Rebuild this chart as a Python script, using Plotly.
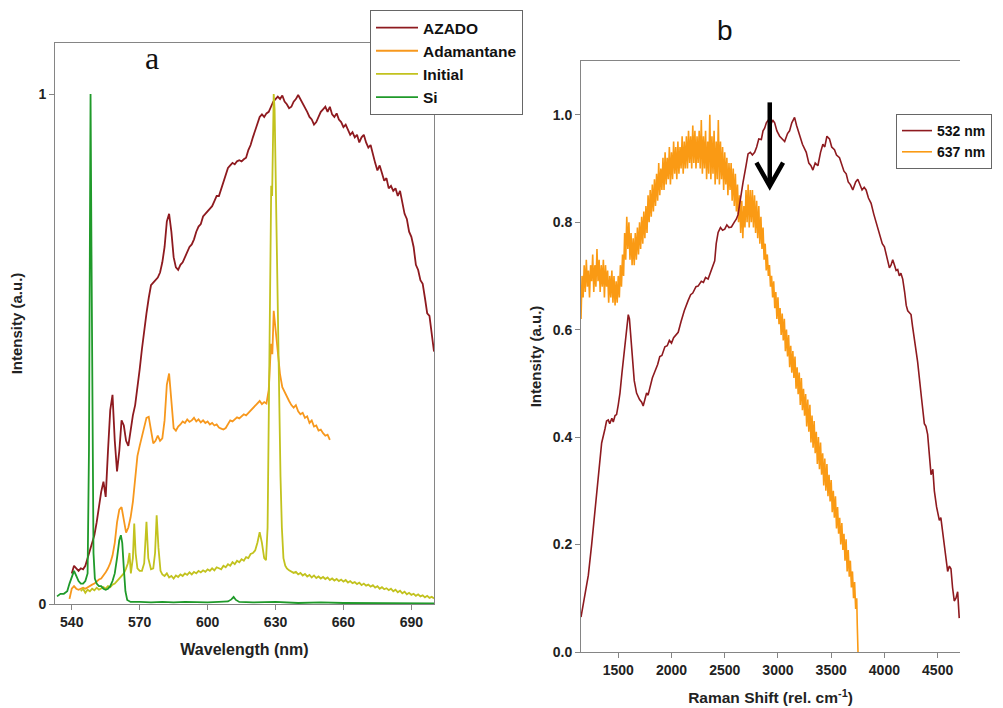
import plotly.graph_objects as go

# ---------------- Panel a data (wavelength nm, normalised intensity) ----------------
AZADO = [
    (540, 0.06), (541, 0.075), (542, 0.07), (543, 0.065), (544, 0.07), (545, 0.068), (546, 0.075),
    (547, 0.09), (548, 0.11), (549, 0.12), (550, 0.135), (551, 0.16), (552, 0.19), (553, 0.22),
    (554, 0.24), (555, 0.21), (556, 0.30), (557, 0.38), (558, 0.41), (559, 0.32), (560, 0.26),
    (561, 0.30), (562, 0.36), (563, 0.35), (564, 0.32), (565, 0.31), (566, 0.34), (567, 0.37),
    (568, 0.39), (569, 0.42), (570, 0.46), (571, 0.50), (572, 0.54), (573, 0.57), (574, 0.60),
    (575, 0.625), (576, 0.63), (577, 0.635), (578, 0.64), (579, 0.65), (580, 0.67), (581, 0.70),
    (582, 0.75), (583, 0.765), (584, 0.73), (585, 0.68), (586, 0.66), (587, 0.655), (588, 0.665),
    (589, 0.67), (590, 0.68), (591, 0.69), (592, 0.70), (593, 0.705), (594, 0.715), (595, 0.73),
    (596, 0.74), (597, 0.745), (598, 0.76), (599, 0.765), (600, 0.77), (601, 0.775), (602, 0.78),
    (603, 0.79), (604, 0.80), (605, 0.80), (606, 0.815), (607, 0.83), (608, 0.845), (609, 0.855),
    (610, 0.86), (611, 0.865), (612, 0.862), (613, 0.868), (614, 0.87), (615, 0.868), (616, 0.872),
    (617, 0.875), (618, 0.89), (619, 0.90), (620, 0.915), (621, 0.93), (622, 0.945), (623, 0.955),
    (624, 0.96), (625, 0.955), (626, 0.962), (627, 0.965), (628, 0.975), (629, 0.985), (630, 0.99),
    (631, 0.995), (632, 0.99), (633, 0.997), (634, 0.985), (635, 0.98), (636, 0.972), (637, 0.975),
    (638, 0.985), (639, 0.99), (640, 0.998), (641, 0.99), (642, 0.98), (643, 0.975), (644, 0.965),
    (645, 0.955), (646, 0.95), (647, 0.94), (648, 0.945), (649, 0.955), (650, 0.965), (651, 0.97),
    (652, 0.975), (653, 0.965), (654, 0.975), (655, 0.96), (656, 0.955), (657, 0.962), (658, 0.95),
    (659, 0.945), (660, 0.935), (661, 0.94), (662, 0.93), (663, 0.92), (664, 0.925), (665, 0.915),
    (666, 0.92), (667, 0.905), (668, 0.915), (669, 0.92), (670, 0.905), (671, 0.895), (672, 0.90),
    (673, 0.88), (674, 0.865), (675, 0.85), (676, 0.86), (677, 0.845), (678, 0.83), (679, 0.835),
    (680, 0.815), (681, 0.82), (682, 0.81), (683, 0.815), (684, 0.80), (685, 0.81), (686, 0.79),
    (687, 0.765), (688, 0.755), (689, 0.73), (690, 0.72), (691, 0.70), (692, 0.665), (693, 0.655),
    (694, 0.635), (695, 0.628), (696, 0.60), (697, 0.57), (698, 0.565), (699, 0.53), (700, 0.495),
]

ADAMANTANE = [
    (539, 0.01), (540, 0.03), (541, 0.035), (542, 0.03), (543, 0.028), (544, 0.03), (545, 0.032),
    (546, 0.03), (547, 0.033), (548, 0.035), (549, 0.038), (550, 0.04), (551, 0.045), (552, 0.048),
    (553, 0.05), (554, 0.055), (555, 0.062), (556, 0.07), (557, 0.08), (558, 0.095), (559, 0.12),
    (560, 0.16), (561, 0.185), (562, 0.19), (563, 0.16), (564, 0.14), (565, 0.15), (566, 0.17),
    (567, 0.20), (568, 0.25), (569, 0.29), (570, 0.31), (571, 0.33), (572, 0.35), (573, 0.365),
    (574, 0.367), (575, 0.34), (576, 0.315), (577, 0.32), (578, 0.33), (579, 0.32), (580, 0.325),
    (581, 0.36), (582, 0.43), (583, 0.452), (584, 0.39), (585, 0.345), (586, 0.34), (587, 0.348),
    (588, 0.352), (589, 0.358), (590, 0.355), (591, 0.362), (592, 0.357), (593, 0.36), (594, 0.365),
    (595, 0.358), (596, 0.362), (597, 0.356), (598, 0.36), (599, 0.355), (600, 0.358), (601, 0.352),
    (602, 0.355), (603, 0.35), (604, 0.352), (605, 0.346), (606, 0.344), (607, 0.342), (608, 0.345),
    (609, 0.352), (610, 0.36), (611, 0.358), (612, 0.362), (613, 0.366), (614, 0.364), (615, 0.368),
    (616, 0.372), (617, 0.37), (618, 0.375), (619, 0.38), (620, 0.385), (621, 0.39), (622, 0.395),
    (623, 0.398), (624, 0.392), (625, 0.396), (626, 0.393), (627, 0.42), (628, 0.51), (628.6, 0.49),
    (629.2, 0.575), (630, 0.54), (631, 0.49), (632, 0.45), (633, 0.425), (634, 0.415), (635, 0.405),
    (636, 0.398), (637, 0.39), (638, 0.385), (639, 0.39), (640, 0.378), (641, 0.372), (642, 0.375),
    (643, 0.365), (644, 0.368), (645, 0.355), (646, 0.36), (647, 0.348), (648, 0.35), (649, 0.34),
    (650, 0.342), (651, 0.335), (652, 0.33), (653, 0.332), (654, 0.322),
]

INITIAL = [
    (544, 0.025), (545, 0.03), (546, 0.022), (547, 0.028), (548, 0.025), (549, 0.03), (550, 0.027),
    (551, 0.032), (552, 0.028), (553, 0.03), (554, 0.033), (555, 0.03), (556, 0.035), (557, 0.033),
    (558, 0.038), (559, 0.04), (560, 0.045), (561, 0.05), (562, 0.055), (563, 0.06), (564, 0.07),
    (564.8, 0.08), (565.5, 0.10), (566.1, 0.06), (567.0, 0.09), (567.6, 0.158), (568.2, 0.10),
    (569, 0.07), (570, 0.065), (571, 0.065), (572, 0.08), (573.0, 0.161), (573.8, 0.09), (575, 0.068),
    (576, 0.07), (576.8, 0.10), (577.5, 0.174), (578.3, 0.11), (579.2, 0.065), (580, 0.058),
    (581, 0.055), (582, 0.06), (583, 0.052), (584, 0.055), (585, 0.05), (586, 0.056), (587, 0.053),
    (588, 0.058), (589, 0.055), (590, 0.06), (591, 0.057), (592, 0.062), (593, 0.058), (594, 0.063),
    (595, 0.06), (596, 0.065), (597, 0.062), (598, 0.066), (599, 0.063), (600, 0.068), (601, 0.065),
    (602, 0.07), (603, 0.066), (604, 0.072), (605, 0.07), (606, 0.068), (607, 0.075), (608, 0.072),
    (609, 0.078), (610, 0.075), (611, 0.082), (612, 0.078), (613, 0.085), (614, 0.082), (615, 0.088),
    (616, 0.085), (617, 0.092), (618, 0.09), (619, 0.098), (620, 0.10), (621, 0.105), (622, 0.12),
    (623, 0.141), (624, 0.12), (625, 0.09), (625.8, 0.086), (626.5, 0.15), (627.1, 0.45),
    (627.7, 0.75), (628.1, 0.82), (628.5, 0.80), (628.9, 0.95), (629.2, 1.0), (629.6, 0.97),
    (630.2, 0.80), (630.8, 0.62), (631.5, 0.42), (632.2, 0.25), (632.8, 0.15), (633.5, 0.09),
    (634.3, 0.075), (635, 0.07), (636, 0.066), (637, 0.064), (638, 0.061), (639, 0.063),
    (640, 0.058), (641, 0.061), (642, 0.056), (643, 0.059), (644, 0.054), (645, 0.057),
    (646, 0.052), (647, 0.056), (648, 0.051), (649, 0.054), (650, 0.05), (651, 0.053),
    (652, 0.049), (653, 0.052), (654, 0.047), (655, 0.05), (656, 0.046), (657, 0.049),
    (658, 0.045), (659, 0.048), (660, 0.044), (661, 0.047), (662, 0.042), (663, 0.045),
    (664, 0.041), (665, 0.043), (666, 0.039), (667, 0.042), (668, 0.037), (669, 0.04),
    (670, 0.036), (671, 0.038), (672, 0.034), (673, 0.037), (674, 0.032), (675, 0.035),
    (676, 0.03), (677, 0.033), (678, 0.029), (679, 0.031), (680, 0.027), (681, 0.03),
    (682, 0.025), (683, 0.028), (684, 0.023), (685, 0.026), (686, 0.021), (687, 0.024),
    (688, 0.019), (689, 0.022), (690, 0.018), (691, 0.02), (692, 0.016), (693, 0.019),
    (694, 0.015), (695, 0.017), (696, 0.013), (697, 0.016), (698, 0.012), (699, 0.014),
    (700, 0.011),
]

SI = [
    (533.5, 0.015), (535, 0.02), (536.5, 0.02), (538, 0.025), (539, 0.04), (540, 0.055),
    (541, 0.065), (542, 0.055), (543, 0.045), (544, 0.04), (545, 0.04), (546, 0.045), (547, 0.06),
    (547.6, 0.30), (548.0, 0.80), (548.3, 1.0), (548.7, 0.70), (549.1, 0.30), (549.6, 0.10),
    (550.2, 0.05), (551, 0.04), (552, 0.035), (553, 0.035), (554, 0.03), (555, 0.028), (556, 0.03),
    (557, 0.035), (558, 0.045), (559, 0.06), (560, 0.09), (561, 0.125), (561.7, 0.135),
    (562.3, 0.12), (563, 0.07), (563.7, 0.025), (564.5, 0.008), (566, 0.004), (570, 0.004),
    (575, 0.003), (580, 0.004), (585, 0.003), (590, 0.004), (595, 0.003), (600, 0.003),
    (605, 0.004), (609, 0.005), (610.5, 0.009), (611.5, 0.014), (612.5, 0.008), (614, 0.004),
    (620, 0.003), (630, 0.004), (640, 0.002), (650, 0.003), (660, 0.002), (670, 0.002),
    (680, 0.002), (690, 0.002), (700, 0.001),
]

# ---------------- Panel b data (Raman shift rel. cm-1, normalised intensity) ----------------
NM532 = [
    (1150, 0.065), (1180, 0.10), (1219, 0.143), (1250, 0.20), (1281, 0.262), (1310, 0.33),
    (1344, 0.389), (1375, 0.415), (1390, 0.43), (1406, 0.432), (1420, 0.425), (1440, 0.435),
    (1453, 0.428), (1470, 0.44), (1484, 0.442), (1500, 0.46), (1516, 0.482), (1535, 0.52),
    (1556, 0.561), (1575, 0.60), (1594, 0.628), (1605, 0.62), (1615, 0.59), (1631, 0.548),
    (1650, 0.505), (1672, 0.482), (1700, 0.47), (1720, 0.465), (1734, 0.458), (1750, 0.47),
    (1766, 0.482), (1780, 0.478), (1800, 0.495), (1820, 0.51), (1844, 0.522), (1870, 0.535),
    (1890, 0.55), (1910, 0.552), (1938, 0.568), (1960, 0.57), (1980, 0.58), (2000, 0.575),
    (2020, 0.585), (2040, 0.59), (2063, 0.595), (2090, 0.615), (2120, 0.635), (2156, 0.654),
    (2180, 0.665), (2200, 0.668), (2230, 0.68), (2250, 0.681), (2280, 0.69), (2300, 0.688),
    (2320, 0.697), (2344, 0.694), (2370, 0.71), (2406, 0.728), (2420, 0.76), (2438, 0.781),
    (2460, 0.79), (2480, 0.785), (2500, 0.787), (2520, 0.795), (2540, 0.79), (2563, 0.791),
    (2590, 0.80), (2610, 0.806), (2625, 0.814), (2650, 0.85), (2672, 0.874), (2700, 0.905),
    (2719, 0.927), (2740, 0.93), (2760, 0.925), (2781, 0.93), (2800, 0.94), (2820, 0.955),
    (2844, 0.954), (2860, 0.97), (2875, 0.975), (2891, 0.985), (2910, 0.99), (2930, 0.98),
    (2950, 0.99), (2969, 0.985), (2990, 0.97), (3016, 0.96), (3040, 0.955), (3063, 0.95),
    (3090, 0.965), (3109, 0.97), (3130, 0.985), (3156, 0.995), (3175, 0.98), (3203, 0.96),
    (3230, 0.945), (3266, 0.93), (3290, 0.91), (3310, 0.905), (3328, 0.897), (3350, 0.91),
    (3375, 0.905), (3400, 0.93), (3422, 0.945), (3440, 0.94), (3460, 0.96), (3484, 0.955),
    (3505, 0.94), (3531, 0.935), (3550, 0.925), (3578, 0.92), (3600, 0.905), (3620, 0.895),
    (3641, 0.89), (3660, 0.875), (3680, 0.87), (3703, 0.86), (3730, 0.875), (3750, 0.88),
    (3766, 0.872), (3790, 0.86), (3810, 0.865), (3828, 0.86), (3850, 0.845), (3875, 0.835),
    (3900, 0.815), (3920, 0.80), (3938, 0.787), (3960, 0.775), (3980, 0.76), (4000, 0.754),
    (4020, 0.735), (4047, 0.715), (4062, 0.72), (4078, 0.73), (4095, 0.72), (4110, 0.71),
    (4125, 0.712), (4140, 0.70), (4155, 0.705), (4172, 0.694), (4190, 0.67), (4205, 0.645),
    (4219, 0.635), (4235, 0.632), (4250, 0.628), (4265, 0.605), (4280, 0.58), (4297, 0.561),
    (4312, 0.54), (4328, 0.515), (4350, 0.47), (4375, 0.425), (4390, 0.42), (4406, 0.405),
    (4420, 0.37), (4438, 0.33), (4455, 0.34), (4469, 0.30), (4490, 0.27), (4516, 0.245),
    (4530, 0.25), (4547, 0.225), (4570, 0.19), (4594, 0.15), (4610, 0.16), (4625, 0.155),
    (4640, 0.12), (4656, 0.095), (4672, 0.10), (4688, 0.112), (4703, 0.063),
]

# 637 nm spectrum, read every 10 rel. cm-1 from 1150 to 3740, then the last two points
nm637_shift = list(range(1150, 3750, 10)) + [3745, 3752]
nm637_int = [
    0.62, 0.70, 0.66, 0.72, 0.67, 0.73, 0.68, 0.71, 0.66, 0.72,
    0.69, 0.74, 0.67, 0.72, 0.68, 0.75, 0.69, 0.73, 0.67, 0.72,
    0.68, 0.73, 0.66, 0.72, 0.68, 0.71, 0.65, 0.70, 0.66, 0.71,
    0.65, 0.70, 0.645, 0.69, 0.65, 0.70, 0.66, 0.72, 0.68, 0.74,
    0.70, 0.78, 0.73, 0.81, 0.75, 0.80, 0.73, 0.78, 0.72, 0.77,
    0.72, 0.78, 0.73, 0.79, 0.74, 0.80, 0.75, 0.81, 0.76, 0.82,
    0.77, 0.83, 0.78, 0.85, 0.80, 0.86, 0.81, 0.87, 0.82, 0.88,
    0.83, 0.89, 0.84, 0.91, 0.85, 0.90, 0.86, 0.92, 0.86, 0.93,
    0.87, 0.92, 0.88, 0.94, 0.87, 0.93, 0.88, 0.95, 0.89, 0.94,
    0.88, 0.95, 0.89, 0.94, 0.90, 0.96, 0.89, 0.95, 0.90, 0.96,
    0.90, 0.97, 0.91, 0.96, 0.90, 0.98, 0.91, 0.97, 0.90, 0.96,
    0.91, 0.97, 0.90, 0.99, 0.89, 0.96, 0.90, 0.97, 0.88, 0.95,
    0.89, 1.00, 0.88, 0.96, 0.89, 0.97, 0.87, 0.95, 0.88, 0.99,
    0.87, 0.95, 0.88, 0.94, 0.86, 0.93, 0.87, 0.92, 0.85, 0.91,
    0.86, 0.91, 0.84, 0.90, 0.83, 0.89, 0.82, 0.87, 0.80, 0.85,
    0.78, 0.84, 0.77, 0.83, 0.79, 0.86, 0.80, 0.87, 0.79, 0.86,
    0.80, 0.86, 0.79, 0.85, 0.78, 0.84, 0.77, 0.83, 0.76, 0.81,
    0.75, 0.79, 0.73, 0.76, 0.71, 0.74, 0.70, 0.72, 0.68, 0.70,
    0.66, 0.69, 0.64, 0.67, 0.62, 0.66, 0.61, 0.64, 0.59, 0.63,
    0.58, 0.62, 0.56, 0.60, 0.55, 0.59, 0.53, 0.57, 0.52, 0.56,
    0.51, 0.55, 0.49, 0.53, 0.48, 0.52, 0.46, 0.51, 0.45, 0.49,
    0.44, 0.48, 0.42, 0.47, 0.41, 0.46, 0.39, 0.44, 0.38, 0.43,
    0.37, 0.41, 0.35, 0.40, 0.34, 0.39, 0.33, 0.37, 0.31, 0.36,
    0.30, 0.35, 0.29, 0.33, 0.28, 0.32, 0.26, 0.30, 0.25, 0.29,
    0.23, 0.27, 0.22, 0.25, 0.20, 0.24, 0.19, 0.22, 0.17, 0.21,
    0.15, 0.19, 0.14, 0.17, 0.12, 0.15, 0.10, 0.13, 0.08, 0.10,
    0.05, 0.0,
]

wl_ticks = [540, 570, 600, 630, 660, 690]
raman_ticks = [1500, 2000, 2500, 3000, 3500, 4000, 4500]
int_ticks_a = [0, 1]
int_ticks_b = [0.0, 0.2, 0.4, 0.6, 0.8, 1.0]
arrow_shift = 2923  # Raman shift marked by the arrow

C_AZADO = "#8E1A1F"
C_ADAM = "#F7981D"
C_INIT = "#C2C21E"
C_SI = "#1F9A2A"
C_532 = "#8E1A1F"
C_637 = "#FA9A14"

FONT = "Liberation Sans, Arial, sans-serif"
AXC = "#858585"

# The page body adds an 8 px offset, so the figure is 995 x 700 and placed at (8, 8).
W, H, OFF = 995, 700, 8


def px(X):
    return (X - OFF) / W


def py(Y):
    return 1 - (Y - OFF) / H


def xs(d):
    return [p[0] for p in d]


def ys(d):
    return [p[1] for p in d]


fig = go.Figure()
for name, d, c in [("AZADO", AZADO, C_AZADO), ("Adamantane", ADAMANTANE, C_ADAM),
                   ("Initial", INITIAL, C_INIT), ("Si", SI, C_SI)]:
    fig.add_trace(go.Scatter(x=xs(d), y=ys(d), mode="lines", name=name,
                             line=dict(color=c, width=1.8), xaxis="x", yaxis="y",
                             legend="legend"))

fig.add_trace(go.Scatter(x=nm637_shift, y=nm637_int, mode="lines", name="637 nm",
                         line=dict(color=C_637, width=1.6), xaxis="x2", yaxis="y2",
                         legend="legend2", legendrank=2))
fig.add_trace(go.Scatter(x=xs(NM532), y=ys(NM532), mode="lines", name="532 nm",
                         line=dict(color=C_532, width=1.6), xaxis="x2", yaxis="y2",
                         legend="legend2", legendrank=1))

tickfont = dict(family=FONT, size=14, color="#222", weight="bold")
axis_common = dict(showline=True, linecolor=AXC, linewidth=1, ticks="outside", ticklen=5,
                   tickcolor=AXC, showgrid=False, zeroline=False, tickfont=tickfont)


def tfont(size):
    return dict(family=FONT, size=size, color="#222", weight="bold")


fig.update_layout(
    width=W, height=H,
    margin=dict(l=0, r=0, t=0, b=0, autoexpand=False),
    paper_bgcolor="white", plot_bgcolor="white",
    xaxis=dict(domain=[px(55), px(434)], range=[532.6, 700], tickvals=wl_ticks, anchor="y",
               mirror=True, title=dict(text="Wavelength (nm)", font=tfont(16), standoff=15),
               **axis_common),
    yaxis=dict(domain=[py(604), py(43)], range=[0, 1.1], tickvals=int_ticks_a,
               ticktext=["0", "1"], anchor="x", mirror=True,
               title=dict(text="Intensity (a.u.)", font=tfont(15), standoff=12),
               **axis_common),
    xaxis2=dict(domain=[px(581), px(960)], range=[1150, 4710], tickvals=raman_ticks,
                anchor="y2", mirror=True,
                title=dict(text="Raman Shift (rel. cm<sup>-1</sup>)", font=tfont(15.5), standoff=15),
                **axis_common),
    yaxis2=dict(domain=[py(652), py(61)], range=[0, 1.1], tickvals=int_ticks_b,
                tickformat=".1f", anchor="x2", mirror=False,
                title=dict(text="Intensity (a.u.)", font=tfont(15), standoff=7),
                **axis_common),
    legend=dict(x=px(370), y=py(10), xanchor="left", yanchor="top", bgcolor="white",
                bordercolor="#666", borderwidth=1,
                font=dict(family=FONT, size=15.5, color="#111", weight="bold"),
                tracegroupgap=0, itemwidth=42),
    legend2=dict(x=px(896), y=py(114), xanchor="left", yanchor="top", bgcolor="white",
                 bordercolor="#666", borderwidth=1,
                 font=dict(family=FONT, size=14, color="#111", weight="bold"),
                 tracegroupgap=0, itemwidth=30),
    annotations=[
        dict(text="a", x=px(152), y=py(58), xref="paper", yref="paper", showarrow=False,
             xanchor="center", yanchor="middle",
             font=dict(family="Liberation Serif, Times New Roman, serif", size=32, color="#111")),
        dict(text="b", x=px(725), y=py(30), xref="paper", yref="paper", showarrow=False,
             xanchor="center", yanchor="middle",
             font=dict(family=FONT, size=28, color="#111")),
    ],
    shapes=[
        dict(type="line", xref="x2", yref="y2", x0=arrow_shift, x1=arrow_shift,
             y0=1.023, y1=0.875, line=dict(color="black", width=4.5)),
        dict(type="path", xref="x2", yref="y2",
             path=f"M {arrow_shift - 125},0.911 L {arrow_shift},0.867 L {arrow_shift + 125},0.911",
             line=dict(color="black", width=4.5)),
    ],
)

fig.write_html("out.html")
